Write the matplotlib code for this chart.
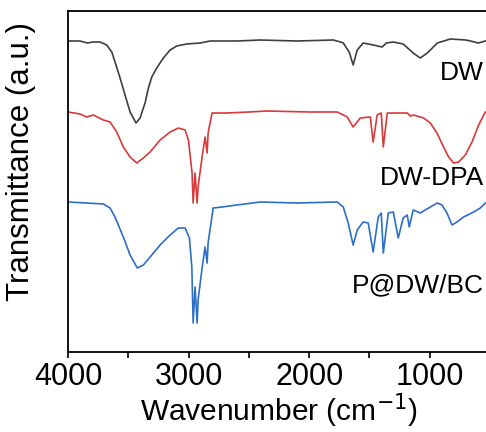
import matplotlib
matplotlib.use("Agg")
import matplotlib.pyplot as plt

plt.rcParams["font.family"] = ["Liberation Sans", "DejaVu Sans"]

# FTIR spectra (wavenumber in cm-1, offset transmittance in a.u.)
dw_wn = [4000, 3900, 3840, 3790, 3734, 3679, 3637, 3610, 3568, 3527, 3485, 3436,
         3402, 3361, 3333, 3305, 3264, 3209, 3153, 3098, 3015, 2904, 2821, 2600,
         2406, 2100, 1800, 1740, 1717, 1668, 1635, 1601, 1552, 1510, 1469, 1394,
         1360, 1302, 1220, 1137, 1078, 1020, 937, 829, 700, 663, 597, 539]
dw_t = [311, 311, 309, 310, 310, 307, 300, 290, 274, 257, 240, 229,
        234, 249, 264, 275, 284, 294, 302, 306, 308, 309, 311, 311,
        312, 311, 312, 310, 309, 300, 287, 302, 309, 308, 307, 305,
        309, 310, 308, 299, 294, 299, 309, 313, 312, 311, 309, 311]

dpa_wn = [4000, 3900, 3845, 3790, 3707, 3651, 3596, 3541, 3485, 3430, 3375, 3319,
          3236, 3153, 3085, 3029, 3001, 2971, 2962, 2946, 2929, 2921, 2888, 2863,
          2846, 2838, 2805, 2680, 2500, 2348, 2000, 1767, 1684, 1635, 1576, 1493,
          1469, 1436, 1402, 1385, 1352, 1250, 1186, 1161, 1134, 1051, 995, 940,
          885, 843, 802, 760, 705, 649, 594, 539]
dpa_t = [240, 238, 235, 237, 232, 230, 220, 205, 195, 189, 194, 200,
         212, 220, 224, 222, 212, 179, 149, 179, 149, 165, 195, 215,
         199, 219, 239, 239, 240, 241, 240, 240, 235, 225, 234, 235,
         210, 237, 239, 205, 239, 239, 239, 236, 237, 234, 229, 219,
         205, 195, 189, 190, 197, 210, 227, 240]

bc_wn = [4000, 3850, 3707, 3651, 3610, 3541, 3485, 3425, 3375, 3319, 3236, 3153,
         3085, 3029, 2993, 2973, 2962, 2946, 2929, 2921, 2888, 2863, 2846, 2838,
         2796, 2722, 2600, 2406, 2100, 1767, 1717, 1676, 1635, 1601, 1552, 1510,
         1469, 1427, 1402, 1385, 1344, 1302, 1261, 1220, 1186, 1170, 1137, 1078,
         995, 937, 898, 857, 815, 774, 719, 636, 580, 539]
bc_t = [150, 149, 148, 144, 135, 115, 97, 84, 87, 95, 107, 117,
        124, 124, 114, 85, 29, 65, 29, 52, 84, 105, 89, 109,
        144, 145, 147, 150, 149, 150, 145, 129, 107, 122, 130, 129,
        100, 135, 139, 99, 139, 140, 114, 134, 137, 125, 142, 139,
        145, 149, 147, 139, 127, 130, 135, 140, 144, 149]

names = ["DW", "DW-DPA", "P@DW/BC"]
colors = ["#3f3f3f", "#d63a3a", "#2c6ec8"]

fig = plt.figure(figsize=(4.86, 4.32), dpi=100)
ax = fig.add_axes([68 / 486, 80 / 432, 422 / 486, 341 / 432])

for wn, t, c in zip([dw_wn, dpa_wn, bc_wn], [dw_t, dpa_t, bc_t], colors):
    ax.plot(wn, t, color=c, lw=1.2)

ax.set_xlim(4000, 500)
ax.set_ylim(0, 341)
ax.set_xticks([4000, 3000, 2000, 1000])
ax.set_xticks([3500, 2500, 1500], minor=True)
ax.set_yticks([])
ax.tick_params(axis="x", which="both", direction="out", length=4, width=1.2,
               labelsize=22, pad=3)
for s in ax.spines.values():
    s.set_linewidth(1.3)

ax.set_xlabel("Wavenumber (cm$^{-1}$)", fontsize=21.5, labelpad=0)
ax.set_ylabel("Transmittance (a.u.)", fontsize=22.5)
ax.yaxis.set_label_coords(-0.075, 0.56)

# curve labels, right aligned near the right edge
label_y = [279, 174, 67]
for name, y in zip(names, label_y):
    ax.text(0.985, y, name, transform=ax.get_yaxis_transform(),
            ha="right", va="center", fontsize=19)

fig.savefig("out.png", dpi=100)
